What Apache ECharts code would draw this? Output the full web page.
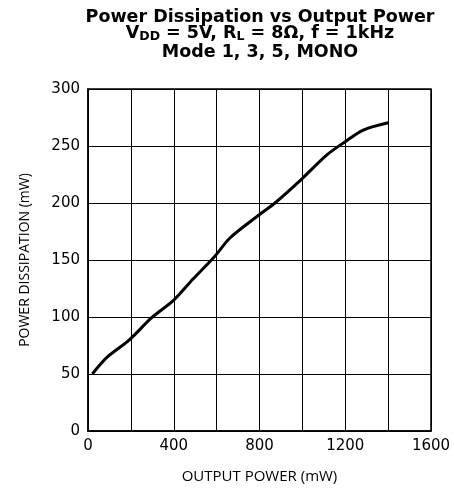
<!DOCTYPE html>
<html>
<head>
<meta charset="utf-8">
<script src="https://cdn.jsdelivr.net/npm/echarts@6/dist/echarts.min.js"></script>
<style>
  html, body { margin: 0; padding: 0; background: #fff; }
  #chart { width: 454px; height: 489px; }
</style>
</head>
<body>
<div id="chart"></div>
<script>
// curve (mW)
const outputPower = [20, 87, 193, 297, 400, 491, 594, 662, 799, 872, 993, 1113, 1200, 1284, 1401]
const powerDissipation = [50, 64.4, 80, 99.4, 114.8, 133.5, 153.8, 169.3, 189.7, 200, 220.3, 242, 253.8, 264, 270.4]
const xTicks = [0, 400, 800, 1200, 1600]
const yTicks = [0, 50, 100, 150, 200, 250, 300]

const chart = echarts.init(document.getElementById('chart'))

const option = {
  animation: false,
  title: {
    text: '{b|Power Dissipation vs Output Power}\n{b|V}{s|DD}{b| = 5V, R}{s|L}{b| = 8Ω, f = 1kHz}\n{b|Mode 1, 3, 5, MONO}',
    left: 255,
    top: 3,
    textAlign: 'center',
    textStyle: {
      rich: {
        b: { fontFamily: 'DejaVu Sans', fontWeight: 'bold', fontSize: 17.5, color: '#000', lineHeight: 16.5, verticalAlign: 'top' },
        s: { fontFamily: 'DejaVu Sans', fontWeight: 'bold', fontSize: 12.5, color: '#000', lineHeight: 19, verticalAlign: 'bottom' }
      }
    }
  },
  grid: {
    left: 88,
    right: 23,
    top: 89,
    bottom: 57,
    show: true,
    borderColor: '#000',
    borderWidth: 1.5
  },
  xAxis: {
    type: 'value',
    min: 0,
    max: 1600,
    interval: 200,
    name: 'OUTPUT POWER (mW)',
    nameLocation: 'middle',
    nameGap: 38,
    nameTextStyle: { fontFamily: 'Open Sans', fontSize: 15, color: '#000' },
    axisLine: { show: true, lineStyle: { color: '#000', width: 1.5 } },
    axisTick: { show: false },
    axisLabel: {
      fontFamily: 'DejaVu Sans',
      fontSize: 15,
      color: '#000',
      margin: 8,
      formatter: v => xTicks.includes(v) ? String(v) : ''
    },
    splitLine: { show: true, lineStyle: { color: '#000', width: 1 } }
  },
  yAxis: {
    type: 'value',
    min: 0,
    max: 300,
    interval: 50,
    name: 'POWER DISSIPATION (mW)',
    nameLocation: 'middle',
    nameGap: 56,
    nameTextStyle: { fontFamily: 'Open Sans', fontSize: 14, color: '#000' },
    axisLine: { show: true, lineStyle: { color: '#000', width: 1.5 } },
    axisTick: { show: false },
    axisLabel: {
      fontFamily: 'DejaVu Sans',
      fontSize: 15,
      color: '#000',
      margin: 8,
      formatter: v => yTicks.includes(v) ? String(v) : ''
    },
    splitLine: { show: true, lineStyle: { color: '#000', width: 1 } }
  },
  series: [
    {
      type: 'line',
      data: outputPower.map((x, i) => [x, powerDissipation[i]]),
      smooth: 0.3,
      showSymbol: false,
      lineStyle: { color: '#000', width: 3 }
    }
  ]
}

chart.setOption(option)
</script>
</body>
</html>
